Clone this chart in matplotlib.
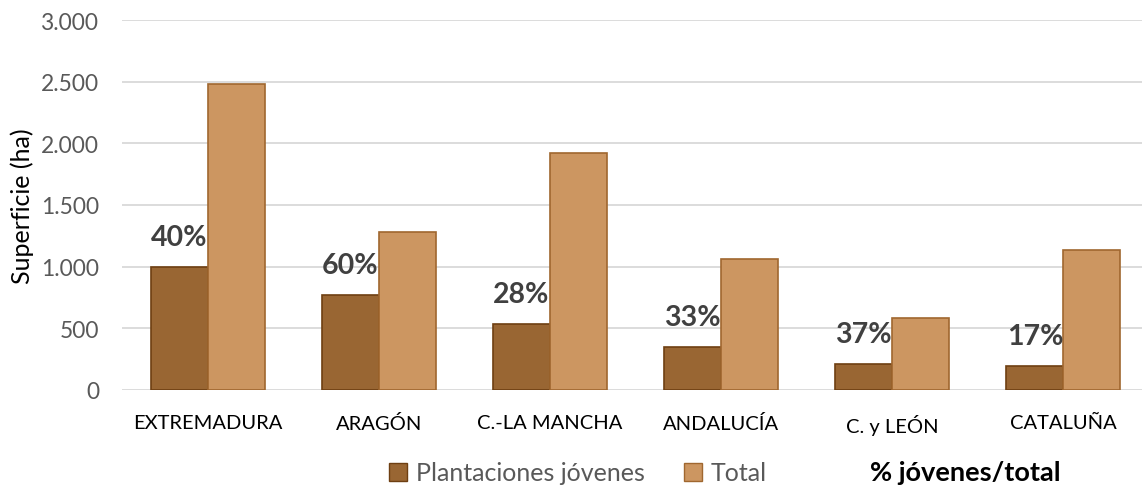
import matplotlib.pyplot as plt
import numpy as np
from matplotlib.patches import Patch

plt.rcParams['font.family'] = ['Lato', 'DejaVu Sans']

regiones = ['EXTREMADURA', 'ARAGÓN', 'C.-LA MANCHA', 'ANDALUCÍA', 'C. y LEÓN', 'CATALUÑA']
jovenes = [1000, 770, 535, 350, 212, 195]
total = [2480, 1281, 1920, 1060, 582, 1136]
pct = ['40%', '60%', '28%', '33%', '37%', '17%']

c_jov = '#996633'
c_tot = '#CC9661'

fig = plt.figure(figsize=(11.42, 4.89), dpi=100)
ax = fig.add_axes([122 / 1142, 98 / 489, 1027 / 1142, 370 / 489])

x = np.arange(len(regiones))
w = 1 / 3
ax.bar(x - w / 2, jovenes, w, color=c_jov, edgecolor='#6E3F12', linewidth=1.2, zorder=3)
ax.bar(x + w / 2, total, w, color=c_tot, edgecolor='#A0672F', linewidth=1.2, zorder=3)

# etiquetas de porcentaje encima de las plantaciones jovenes
for xi, v, p in zip(x, jovenes, pct):
    ax.annotate(p, (xi - w / 2, v), xytext=(0, 30), textcoords='offset pixels',
                ha='center', va='center', fontsize=20.5, fontweight='bold',
                color='#404040', zorder=4)

ax.set_xlim(-0.5, 5.5)
ax.set_ylim(0, 3000)
ax.set_yticks(range(0, 3001, 500))
ax.set_yticklabels(['0', '500', '1.000', '1.500', '2.000', '2.500', '3.000'])
ax.set_xticks(x)
ax.set_xticklabels(regiones)
ax.tick_params(axis='y', length=0, pad=16.5, labelsize=16.4, labelcolor='#595959')
ax.tick_params(axis='x', length=0, pad=17, labelsize=14.5, labelcolor='#000000')
ax.grid(axis='y', color='#D9D9D9', linewidth=1.3, zorder=0)
for s in ax.spines.values():
    s.set_visible(False)

ax.set_ylabel('Superficie (ha)', fontsize=18, color='#000000')
ax.yaxis.set_label_coords(-0.086, 0.5)

handles = [Patch(facecolor=c_jov, edgecolor='#6E3F12', label='Plantaciones jóvenes'),
           Patch(facecolor=c_tot, edgecolor='#A0672F', label='Total')]
fig.legend(handles=handles, loc='center', bbox_to_anchor=(578 / 1142, 1 - 474 / 489),
           ncol=2, frameon=False, fontsize=18, handlelength=0.7, handleheight=0.7,
           handletextpad=0.35, columnspacing=1.6, labelcolor='#595959')
fig.text(965 / 1142, 1 - 473 / 489, '% jóvenes/total', ha='center', va='center',
         fontsize=19.5, fontweight='bold', color='#000000')

fig.savefig('out.png', dpi=100)
